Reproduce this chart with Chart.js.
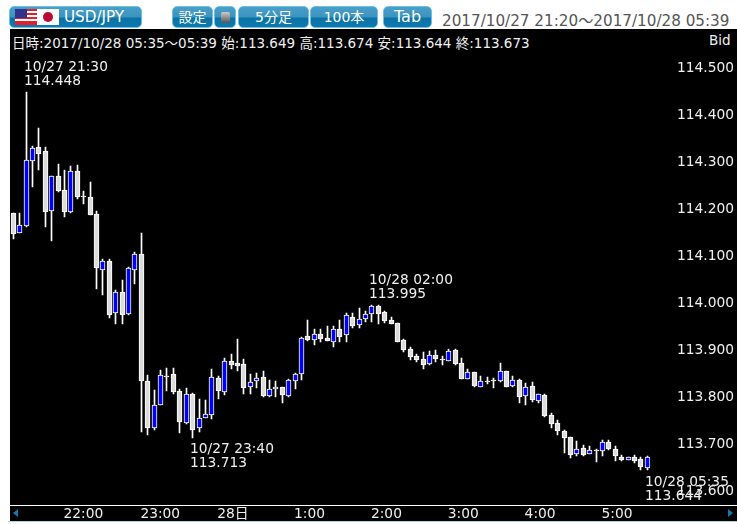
<!DOCTYPE html>
<html>
<head>
<meta charset="utf-8">
<title>USD/JPY</title>
<script src="https://cdn.jsdelivr.net/npm/chart.js@4"></script>
<style>
  html, body { margin: 0; padding: 0; background: #fff; }
  body { width: 737px; height: 524px; overflow: hidden; position: relative; font-family: "DejaVu Sans", "Noto Sans CJK JP", sans-serif; font-size: 13.5px; }
  #panel { position: absolute; left: 10px; top: 29px; width: 727px; height: 493px; background: #000; }
  #rule { position: absolute; left: 10px; top: 505px; width: 727px; height: 1px; background: #fff; }
  #foot { position: absolute; left: 8px; top: 521px; width: 729px; height: 1px; background: #a8d4ee; }
  #wrap { position: absolute; left: 0; top: 0; width: 737px; height: 524px; }
  .btn { position: absolute; top: 6px; height: 20px; line-height: 20px; text-align: center; color: #fff; border: 1px solid #6cc0e8; border-radius: 5px;
         background: linear-gradient(#4a9fc8 0%, #3b93bf 50%, #0b72a6 55%, #0f79ae 100%); font-size: 14px; }
  #date { position: absolute; left: 442px; top: 8px; color: #555; font-size: 15.2px; white-space: nowrap; }
  #info { position: absolute; left: 12px; top: 32px; color: #f0f0f0; white-space: nowrap; }
  #bid { position: absolute; left: 709px; top: 32px; color: #f0f0f0; }
  .arrow { position: absolute; top: 509px; width: 0; height: 0; border-top: 4px solid transparent; border-bottom: 4px solid transparent; }
</style>
</head>
<body>
<div id="panel"></div>
<div id="rule"></div>
<div id="foot"></div>

<div class="btn" style="left:9px;width:131px;text-align:left;text-indent:54px;font-size:15.2px">USD/JPY</div>
<svg style="position:absolute;left:15px;top:9px" width="44" height="16">
  <rect width="22" height="16" fill="#fff"/>
  <rect y="0" width="22" height="2" fill="#e0202c"/><rect y="4" width="22" height="2" fill="#e0202c"/>
  <rect y="8" width="22" height="2" fill="#e0202c"/><rect y="12" width="22" height="2" fill="#e0202c"/>
  <rect y="14" width="22" height="2" fill="#e0202c"/>
  <rect width="12" height="9" fill="#33338c"/>
  <rect x="22" width="22" height="16" fill="#fff"/>
  <circle cx="33" cy="8" r="5" fill="#bc0a33"/>
</svg>
<div class="btn" style="left:172px;width:39px">設定</div>
<div class="btn" style="left:214px;width:20px">
  <span style="position:absolute;left:6px;top:5px;width:9px;height:11px;background:linear-gradient(#ccc,#555);border-radius:2px"></span>
</div>
<div class="btn" style="left:238px;width:69px">5分足</div>
<div class="btn" style="left:310px;width:66px">100本</div>
<div class="btn" style="left:383px;width:47px;font-size:16px">Tab</div>
<div id="date">2017/10/27 21:20～2017/10/28 05:39</div>
<div id="info">日時:2017/10/28 05:35～05:39 始:113.649 高:113.674 安:113.644 終:113.673</div>
<div id="bid">Bid</div>

<div id="wrap"><canvas id="chart" width="737" height="524"></canvas></div>
<div class="arrow" style="left:13px;border-right:5px solid #1478b0"></div>
<div class="arrow" style="left:728px;border-left:5px solid #1478b0"></div>

<script>
const times = [
  '21:20','21:25','21:30','21:35','21:40','21:45','21:50','21:55',
  '22:00','22:05','22:10','22:15','22:20','22:25','22:30','22:35','22:40','22:45','22:50','22:55',
  '23:00','23:05','23:10','23:15','23:20','23:25','23:30','23:35','23:40','23:45','23:50','23:55',
  '0:00','0:05','0:10','0:15','0:20','0:25','0:30','0:35','0:40','0:45','0:50','0:55',
  '1:00','1:05','1:10','1:15','1:20','1:25','1:30','1:35','1:40','1:45','1:50','1:55',
  '2:00','2:05','2:10','2:15','2:20','2:25','2:30','2:35','2:40','2:45','2:50','2:55',
  '3:00','3:05','3:10','3:15','3:20','3:25','3:30','3:35','3:40','3:45','3:50','3:55',
  '4:00','4:05','4:10','4:15','4:20','4:25','4:30','4:35','4:40','4:45','4:50','4:55',
  '5:00','5:05','5:10','5:15','5:20','5:25','5:30','5:35'
];

const opens = [
  114.191,114.150,114.164,114.303,114.331,114.323,114.196,114.270,114.240,114.194,
  114.280,114.227,114.225,114.189,114.071,114.089,113.979,114.023,113.977,114.071,
  114.104,113.833,113.733,113.784,113.844,113.848,113.812,113.745,113.806,113.733,
  113.755,113.761,113.840,113.811,113.876,113.872,113.870,113.821,113.835,113.842,
  113.803,113.816,113.821,113.803,113.833,113.848,113.929,113.922,113.933,113.925,
  113.918,113.944,113.931,113.970,113.954,113.965,113.976,113.993,113.980,113.963,
  113.957,113.921,113.902,113.887,113.880,113.870,113.889,113.880,113.877,113.899,
  113.872,113.839,113.853,113.822,113.835,113.836,113.835,113.855,113.824,113.836,
  113.803,113.823,113.792,113.804,113.761,113.744,113.727,113.714,113.679,113.691,
  113.679,113.687,113.686,113.704,113.689,113.672,113.667,113.672,113.668,113.649
];
const closes = [
  114.147,114.165,114.304,114.329,114.318,114.194,114.270,114.239,114.194,114.280,
  114.226,114.225,114.188,114.075,114.089,113.975,114.023,113.975,114.074,114.104,
  113.835,113.735,113.784,113.846,113.843,113.811,113.747,113.806,113.730,113.755,
  113.763,113.842,113.813,113.876,113.869,113.867,113.820,113.831,113.840,113.802,
  113.816,113.821,113.804,113.836,113.848,113.925,113.922,113.933,113.924,113.920,
  113.944,113.928,113.974,113.952,113.965,113.976,113.993,113.977,113.962,113.956,
  113.918,113.901,113.886,113.879,113.869,113.889,113.880,113.879,113.897,113.871,
  113.839,113.853,113.824,113.835,113.833,113.835,113.855,113.822,113.836,113.801,
  113.821,113.794,113.806,113.760,113.743,113.728,113.713,113.677,113.689,113.677,
  113.687,113.686,113.704,113.690,113.675,113.667,113.672,113.664,113.650,113.673
];
const highs = [
  114.192,114.191,114.448,114.333,114.372,114.331,114.271,114.296,114.282,114.291,
  114.293,114.239,114.258,114.196,114.093,114.093,114.028,114.050,114.076,114.109,
  114.148,113.846,113.814,113.857,113.862,113.861,113.816,113.819,113.808,113.795,
  113.793,113.859,113.844,113.884,113.891,113.923,113.880,113.848,113.850,113.855,
  113.836,113.833,113.821,113.838,113.850,113.927,113.963,113.944,113.944,113.950,
  113.950,113.963,113.978,113.978,113.989,113.982,113.995,113.995,113.982,113.970,
  113.957,113.923,113.906,113.891,113.895,113.897,113.899,113.888,113.902,113.902,
  113.884,113.859,113.854,113.844,113.842,113.840,113.872,113.855,113.844,113.838,
  113.829,113.831,113.806,113.806,113.765,113.750,113.729,113.714,113.706,113.697,
  113.695,113.689,113.708,113.708,113.695,113.676,113.672,113.676,113.672,113.674
];
const lows = [
  114.136,114.150,114.162,114.247,114.284,114.161,114.131,114.237,114.184,114.192,
  114.222,114.210,114.188,114.029,114.016,113.969,113.956,113.956,113.975,114.040,
  113.725,113.719,113.730,113.784,113.813,113.807,113.723,113.743,113.713,113.725,
  113.755,113.753,113.795,113.805,113.859,113.855,113.807,113.806,113.819,113.799,
  113.801,113.801,113.788,113.799,113.818,113.837,113.920,113.911,113.916,113.920,
  113.907,113.916,113.916,113.946,113.946,113.959,113.959,113.955,113.957,113.956,
  113.918,113.896,113.879,113.875,113.860,113.869,113.874,113.869,113.877,113.869,
  113.839,113.839,113.821,113.822,113.827,113.820,113.831,113.822,113.821,113.788,
  113.784,113.789,113.787,113.758,113.735,113.720,113.681,113.671,113.675,113.675,
  113.679,113.662,113.674,113.688,113.664,113.664,113.667,113.660,113.645,113.644
];

const tickTimes = ['22:00','23:00','0:00','1:00','2:00','3:00','4:00','5:00'];
const tickLabels = ['22:00','23:00','28日','1:00','2:00','3:00','4:00','5:00'];
const priceTicks = [114.5,114.4,114.3,114.2,114.1,114.0,113.9,113.8,113.7,113.6];

// high / low call-outs on the plot
const noteIndex = [2, 28, 56, 99];
const noteDate = ['10/27 21:30','10/27 23:40','10/28 02:00','10/28 05:35'];
const notePrice = [114.448, 113.713, 113.995, 113.644];
const noteAbove = [true, false, true, false];

const font = { family: '"DejaVu Sans", "Noto Sans CJK JP", sans-serif', size: 13.8 };
const textColor = '#efefef';

// snap the bars onto whole pixels so the 1px wicks stay sharp
const snapBars = {
  id: 'snapBars',
  afterDatasetsUpdate(chart) {
    chart.data.datasets.forEach((ds, d) => {
      chart.getDatasetMeta(d).data.forEach(el => {
        el.x = Math.floor(el.x) + 0.5;
        el.y = Math.round(el.y);
        el.base = Math.round(el.base);
        if (el.y === el.base) el.base += 1;
      });
    });
  }
};

const notes = {
  id: 'notes',
  afterDraw(chart) {
    const ctx = chart.ctx;
    ctx.save();
    ctx.font = font.size + 'px ' + font.family;
    ctx.fillStyle = textColor;
    ctx.textAlign = 'left';
    ctx.textBaseline = 'middle';
    noteIndex.forEach((idx, i) => {
      const x = Math.floor(chart.scales.x.getPixelForValue(idx)) - 2;
      const y = chart.scales.y.getPixelForValue(notePrice[i]);
      const y1 = noteAbove[i] ? y - 25 : y + 12;
      ctx.fillText(noteDate[i], x, y1);
      ctx.fillText(notePrice[i].toFixed(3), x, y1 + 14);
    });
    ctx.restore();
  }
};

new Chart(document.getElementById('chart'), {
  type: 'bar',
  data: {
    labels: times,
    datasets: [
      {
        label: 'wick',
        data: lows.map((l, i) => [l, highs[i]]),
        backgroundColor: '#fff',
        borderWidth: 0,
        barThickness: 1,
        grouped: false,
        order: 2
      },
      {
        label: 'body',
        data: opens.map((o, i) => [o, closes[i]]),
        backgroundColor: opens.map((o, i) => closes[i] > o ? '#0000ff' : '#dcdcdc'),
        borderColor: '#fff',
        borderWidth: 1,
        borderSkipped: false,
        barThickness: 5,
        grouped: false,
        order: 1
      }
    ]
  },
  options: {
    responsive: false,
    animation: false,
    layout: { padding: { left: 10.1, top: 29, right: 0, bottom: 0 } },
    plugins: { legend: { display: false }, tooltip: { enabled: false } },
    scales: {
      x: {
        grid: { display: false, drawTicks: false },
        border: { display: false },
        afterFit(scale) { scale.height = 19; },
        ticks: {
          autoSkip: false,
          maxRotation: 0,
          minRotation: 0,
          align: 'start',
          labelOffset: -1,
          padding: 1,
          color: textColor,
          font: font,
          callback(value) {
            return tickLabels[tickTimes.indexOf(times[value])] || '';
          }
        }
      },
      y: {
        position: 'right',
        min: 113.5702,
        max: 114.583,
        grid: { display: false, drawTicks: false },
        border: { display: false },
        afterFit(scale) {
          scale.width = 86.5;
          scale.paddingTop = 0;
          scale.paddingBottom = 0;
        },
        afterBuildTicks(scale) { scale.ticks = priceTicks.map(v => ({ value: v })); },
        ticks: {
          padding: 26.5,
          color: textColor,
          font: font,
          callback(value) { return value.toFixed(3); }
        }
      }
    }
  },
  plugins: [snapBars, notes]
});
</script>
</body>
</html>
